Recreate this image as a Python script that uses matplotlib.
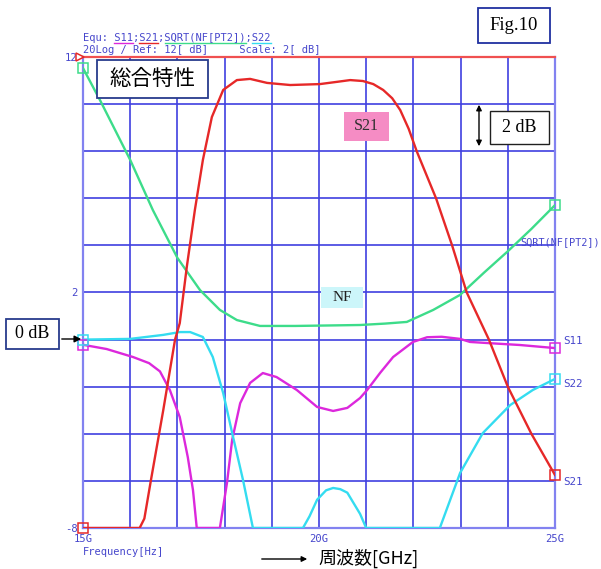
import matplotlib
matplotlib.use("Agg")
import matplotlib.pyplot as plt
from matplotlib.patches import FancyArrowPatch, Rectangle

# ---------------- data ----------------
s21_f = [15, 16.2, 16.3, 16.44, 16.7, 16.95, 17.05, 17.2, 17.37, 17.54, 17.73, 17.97, 18.26,
         18.54, 18.9, 19.39, 20.02, 20.4, 20.66, 20.93, 21.15, 21.36, 21.55, 21.72, 21.9,
         22.07, 22.48, 22.82, 23.13, 23.6, 24.0, 24.5, 25]
s21_v = [-8, -8, -7.6, -5.96, -3.0, 0.0, 0.7, 3.1, 5.5, 7.63, 9.45, 10.6, 11.02,
         11.07, 10.9, 10.81, 10.85, 10.95, 11.02, 10.98, 10.85, 10.6, 10.25, 9.75, 8.95,
         8.0, 6.0, 4.0, 2.0, 0.0, -2.0, -4.0, -5.75]

s11_f = [15, 15.5, 16.06, 16.4, 16.63, 16.84, 17.05, 17.22, 17.33, 17.41, 17.9, 18.05, 18.16,
         18.33, 18.54, 18.81, 19.1, 19.53, 19.96, 20.3, 20.6, 20.87, 21.02, 21.3, 21.57,
         21.99, 22.29, 22.6, 22.99, 23.2, 23.6, 24.26, 25]
s11_v = [-0.22, -0.4, -0.74, -1.0, -1.35, -2.14, -3.29, -4.99, -6.39, -8, -8, -6.09, -4.26,
         -2.7, -1.84, -1.42, -1.59, -2.14, -2.86, -3.03, -2.9, -2.48, -2.14, -1.4, -0.74,
         -0.1, 0.1, 0.12, 0.03, -0.1, -0.15, -0.23, -0.36]

s22_f = [15, 16.0, 16.7, 17.05, 17.27, 17.54, 17.75, 17.97, 18.18, 18.39, 18.6, 19.66, 19.8,
         19.96, 20.15, 20.3, 20.45, 20.6, 20.87, 21.0, 22.56, 22.99, 23.47, 24.05, 24.53, 25]
s22_v = [0.0, 0.03, 0.2, 0.32, 0.32, 0.11, -0.74, -2.27, -4.14, -5.96, -8, -8, -7.5,
         -6.8, -6.4, -6.3, -6.35, -6.5, -7.4, -8, -8, -5.66, -3.97, -2.78, -2.14, -1.67]

nf_f = [15, 15.36, 16.0, 16.48, 17.0, 17.48, 17.9, 18.26, 18.75, 19.5, 20.2, 20.87, 21.4,
        21.86, 22.42, 22.99, 23.5, 24.0, 24.5, 25]
nf_v = [11.53, 10.17, 7.63, 5.5, 3.47, 2.1, 1.26, 0.83, 0.58, 0.58, 0.6, 0.62, 0.68,
        0.75, 1.26, 1.9, 2.85, 3.75, 4.7, 5.71]

x_ticks = [15, 16, 17, 18, 19, 20, 21, 22, 23, 24, 25]
x_labels = ["15G", "", "", "", "", "20G", "", "", "", "", "25G"]
y_ticks = [-8, -6, -4, -2, 0, 2, 4, 6, 8, 10, 12]
y_labels = ["-8", "", "", "", "", "2", "", "", "", "", "12"]

# ---------------- styling ----------------
W, H = 601, 569
RED = "#e62828"
MAG = "#dc28dc"
CYA = "#34dcf0"
GRN = "#3ddc8a"
GRID = "#4040e0"
FRAME = "#8282f0"
LBL = "#4646cc"
MONO = "DejaVu Sans Mono"


def fx(x):
    return x / W


def fy(y):
    return 1 - y / H


fig = plt.figure(figsize=(W / 100, H / 100), dpi=100)
fig.patch.set_facecolor("white")
ax = fig.add_axes([fx(83), fy(528), (555 - 83) / W, (528 - 57) / H])
ax.set_xlim(15, 25)
ax.set_ylim(-8, 12)
ax.set_xticks(x_ticks)
ax.set_xticklabels(x_labels)
ax.set_yticks(y_ticks)
ax.set_yticklabels(y_labels)
ax.tick_params(length=0, colors=LBL, labelsize=7.6, pad=4)
for t in ax.get_xticklabels() + ax.get_yticklabels():
    t.set_family(MONO)
ax.grid(True, color=GRID, lw=1.2)
ax.set_axisbelow(True)
for s in ["left", "right", "bottom"]:
    ax.spines[s].set_color(FRAME)
    ax.spines[s].set_linewidth(1.6)
ax.spines["top"].set_color("#f05050")
ax.spines["top"].set_linewidth(1.6)

series = [(s11_f, s11_v, MAG), (s22_f, s22_v, CYA), (nf_f, nf_v, GRN), (s21_f, s21_v, RED)]
for f, v, c in series:
    ax.plot(f, v, color=c, lw=1.7, solid_joinstyle="round", zorder=3)
    ax.plot([f[0], f[-1]], [v[0], v[-1]], ls="none", marker="s", ms=6.5,
            mfc="none", mec=c, mew=1.1, clip_on=False, zorder=4)

# reference marker at top-left
ax.plot([14.93], [12], marker=">", ms=6, mfc="none", mec=RED, mew=1.1,
        clip_on=False, ls="none", zorder=4)

# ---------------- header texts ----------------
fs = 7.5
cw = 0.602 * fs * 100 / 72  # char width px
hx = 83
line1 = "Equ: S11;S21;SQRT(NF[PT2]);S22"
fig.text(fx(hx), fy(41), line1, family=MONO, size=fs, color=LBL, va="baseline")
fig.text(fx(hx), fy(53), "20Log / Ref: 12[ dB]     Scale: 2[ dB]", family=MONO,
         size=fs, color=LBL, va="baseline")
for start, end, c in [(5, 8, MAG), (9, 12, RED), (13, 26, GRN), (27, 30, CYA)]:
    fig.add_artist(plt.Line2D([fx(hx + start * cw), fx(hx + end * cw)], [fy(43), fy(43)],
                              color=c, lw=1.0))

# right-hand trace labels
fig.text(fx(520), fy(242), "SQRT(NF[PT2])", family=MONO, size=7.4, color=LBL, va="center")
fig.text(fx(563), fy(341), "S11", family=MONO, size=7.8, color=LBL, va="center")
fig.text(fx(563), fy(384), "S22", family=MONO, size=7.8, color=LBL, va="center")
fig.text(fx(563), fy(482), "S21", family=MONO, size=7.8, color=LBL, va="center")
fig.text(fx(83), fy(552), "Frequency[Hz]", family=MONO, size=7.5, color=LBL, va="center")


# ---------------- boxes ----------------
def box_text(x0, y0, x1, y1, txt, family, size, fc="white", ec="#283c8c", tc="black", lw=1.3):
    r = Rectangle((fx(x0), fy(y1)), (x1 - x0) / W, (y1 - y0) / H, transform=fig.transFigure,
                  facecolor=fc, edgecolor=ec, lw=lw, zorder=5)
    fig.add_artist(r)
    fig.text(fx((x0 + x1) / 2), fy((y0 + y1) / 2), txt, family=family, size=size, color=tc,
             ha="center", va="center", zorder=6)


box_text(97, 60, 208, 98, "総合特性", ["Noto Sans CJK JP", "DejaVu Sans"], 15.5)
box_text(478, 8, 550, 43, "Fig.10", "Liberation Serif", 13.5, ec="#2030a0")
box_text(490, 111, 549, 144, "2 dB", "Liberation Serif", 13, ec="#202020", lw=1.0)
box_text(6, 319, 59, 349, "0 dB", "Liberation Serif", 13, ec="#283c8c")
box_text(344, 112, 389, 141, "S21", "Liberation Serif", 11.5, fc="#f58cc4", ec="none", tc="#303030")
box_text(321, 287, 363, 308, "NF", "Liberation Serif", 11, fc="#ccf6fa", ec="none", tc="#202020")

# arrows
fig.add_artist(FancyArrowPatch((fx(59), fy(339)), (fx(84), fy(339)), transform=fig.transFigure,
                               arrowstyle="-|>", mutation_scale=10, color="black", lw=1.0, zorder=6))
fig.add_artist(FancyArrowPatch((fx(479), fy(102)), (fx(479), fy(149)), transform=fig.transFigure,
                               arrowstyle="<|-|>", mutation_scale=8, color="black", lw=1.0, zorder=6))
fig.add_artist(FancyArrowPatch((fx(259), fy(559)), (fx(310), fy(559)), transform=fig.transFigure,
                               arrowstyle="-|>", mutation_scale=8, color="black", lw=1.0, zorder=6))
fig.text(fx(318), fy(558), "周波数[GHz]", family=["Noto Sans CJK JP", "DejaVu Sans"], size=13,
         color="black", ha="left", va="center")

fig.savefig("out.png", dpi=100, facecolor="white")
